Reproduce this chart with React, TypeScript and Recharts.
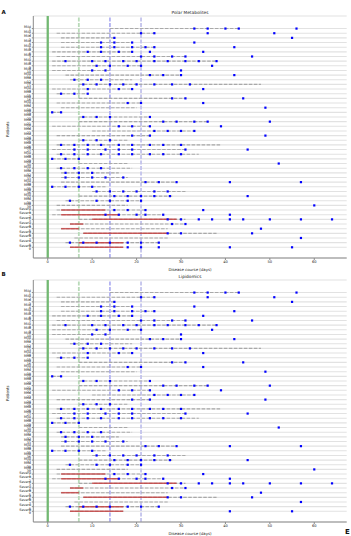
import React from "react";
import {
  ScatterChart,
  Scatter,
  XAxis,
  YAxis,
  CartesianGrid,
  ReferenceLine,
} from "recharts";

const patients = [
  ...Array.from({ length: 39 }, (_, i) => `Mild ${i + 1}`),
  ...Array.from({ length: 9 }, (_, i) => `Severe ${i + 1}`),
];

// hospital stay span (grey dashed), in days
const spanStart = [14, 2, 3, 3, 3, 1, 2, 1, 1, 1, 4, 5, 7, 1, 2, 7, 2, 3, 1, 7, 7, 1, 10, 2, 7, 2, 1, 2, 1, 7, 2, 3, 3, 3, 1, 10, 7, 4, 2, 2, 1, 7, 5, 3, 8, 6, 4, 5];
const spanEnd = [43, 24, 15, 19, 24, 19, 31, 38, 21, 14, 30, 19, 48, 19, 9, 31, 21, 20, 3, 23, 36, 23, 33, 23, 18, 39, 31, 34, 7, 18, 19, 16, 18, 29, 13, 31, 28, 21, 18, 22, 26, 31, 31, 27, 38, 27, 25, 17];

// severe phase (red), null = none
const redStart: (number | null)[] = [...Array(39).fill(null), 3, 3, 10, 5, 3, 8, null, 7, 5];
const redEnd: (number | null)[] = [...Array(39).fill(null), 13, 16, 29, 8, 7, 27, null, 17, 17];

// sample days, Lipidomics
const samplesLipid: number[][] = [
  [33, 36, 40, 43, 56],
  [21, 24, 36, 51],
  [15, 55],
  [12, 15, 19, 33],
  [12, 15, 19, 22, 24, 42],
  [9, 12, 16, 19, 35],
  [21, 24, 28, 31, 46],
  [4, 10, 13, 17, 20, 24, 27, 31, 34, 38],
  [11, 14, 18, 21, 37],
  [10, 13, 30],
  [23, 26, 30, 42],
  [6, 9, 12],
  [8, 11, 14, 17, 20, 24, 28, 32],
  [9, 16, 19, 35],
  [3, 6, 9],
  [28, 31, 44],
  [18, 21, 35],
  [49],
  [1, 3],
  [8, 11, 14, 23],
  [26, 29, 33, 36, 50],
  [16, 19, 23, 39],
  [24, 27, 30, 33],
  [19, 23, 49],
  [8, 11, 14],
  [3, 6, 9, 12, 16, 19, 23, 26, 30],
  [6, 9, 13, 16, 19, 31, 45],
  [3, 6, 9, 12, 16, 19, 23, 26, 30],
  [1, 4, 7],
  [52],
  [3, 6, 9, 12],
  [4, 7, 10],
  [4, 7, 10, 13, 17],
  [22, 25, 29, 41, 57],
  [1, 4, 7, 10],
  [11, 14, 17, 20, 24, 27],
  [15, 18, 21, 24, 27.5, 45],
  [5, 11, 14, 18, 21],
  [60],
  [15, 18, 22, 35],
  [13, 16, 20, 22, 26, 41],
  [27, 30, 34, 37, 41, 44, 50, 57, 64],
  [28, 31],
  [48],
  [27, 30, 46],
  [57],
  [5, 8, 11, 14, 18, 21, 25],
  [41, 55],
];

// sample days, Polar Metabolites
const samplesPolar: number[][] = samplesLipid.map((d, i) => {
  if (i === 5) return [9, 12, 16, 19, 23, 35];
  if (i === 47) return [18, 21, 25, 41, 55];
  return d;
});

const markerDays = [0, 7, 14, 21];
const markerColors = ["#72b872", "#b9dab9", "#b3b3f2", "#c3c3ec"];
const xTicks = [0, 10, 20, 30, 40, 50, 60];
const rowTicks = patients.map((_, i) => i);

const X_DOMAIN: [number, number] = [-3.25, 67.3];
const Y_DOMAIN: [number, number] = [-2.7, 49.3];
const FONT = "DejaVu Sans";

function Dot(props: any) {
  const { cx, cy } = props;
  if (cx == null || cy == null) return null;
  return <rect x={cx - 1.1} y={cy - 1.1} width={2.2} height={2.2} fill="#0000ff" />;
}

function Panel({ samples, top, title, letter, showExtra }: { samples: number[][]; top: number; title: string; letter: string; showExtra?: boolean }) {
  const points = samples.flatMap((days, i) => days.map((d) => ({ x: d, y: i })));
  return (
    <div style={{ position: "absolute", left: 0, top, width: 351, height: 272 }}>
      <ScatterChart width={351} height={272} margin={{ top: 16, right: 4.3, left: 0, bottom: 0 }}>
        <CartesianGrid horizontal vertical={false} stroke="#e2e2e2" strokeWidth={1.1} />
        <XAxis
          type="number"
          dataKey="x"
          domain={X_DOMAIN}
          allowDataOverflow
          ticks={xTicks}
          height={14}
          tickSize={2}
          tickMargin={0.5}
          stroke="#8a8a8a"
          tick={{ fontSize: 3.6, fill: "#222", fontFamily: FONT }}
          label={{ value: "Disease course (days)", position: "insideBottom", offset: 1.5, fontSize: 3.9, fill: "#222", fontFamily: FONT }}
        />
        <XAxis xAxisId="top" orientation="top" type="number" domain={X_DOMAIN} allowDataOverflow height={0} tick={false} tickLine={false} stroke="#8a8a8a" />
        <YAxis
          type="number"
          dataKey="y"
          domain={Y_DOMAIN}
          allowDataOverflow
          reversed
          ticks={rowTicks}
          interval={0}
          width={33.3}
          tickSize={1.5}
          tickMargin={0.8}
          stroke="#8a8a8a"
          tickFormatter={(v: number) => patients[v] ?? ""}
          tick={{ fontSize: 3.4, fill: "#222", fontFamily: FONT }}
          label={{ value: "Patients", angle: -90, position: "insideLeft", offset: 8, fontSize: 3.9, fill: "#222", fontFamily: FONT }}
        />
        <YAxis yAxisId="right" orientation="right" type="number" domain={Y_DOMAIN} allowDataOverflow width={0} tick={false} tickLine={false} stroke="#8a8a8a" />
        {markerDays.map((d, k) => (
          <ReferenceLine
            key={`m${k}`}
            x={d}
            stroke={markerColors[k]}
            strokeWidth={k === 0 ? 2.3 : 1.8}
            strokeDasharray={k === 0 ? undefined : "4 1.5"}
          />
        ))}
        {patients.map((_, i) => (
          <ReferenceLine
            key={`s${i}`}
            segment={[{ x: spanStart[i], y: i }, { x: spanEnd[i], y: i }]}
            stroke="#a9a9a9"
            strokeWidth={1.1}
            strokeDasharray="3.5 1.5"
          />
        ))}
        {patients.map((_, i) =>
          redStart[i] != null ? (
            <ReferenceLine
              key={`r${i}`}
              segment={[{ x: redStart[i] as number, y: i }, { x: redEnd[i] as number, y: i }]}
              stroke="#c43c3c"
              strokeOpacity={0.8}
              strokeWidth={1.5}
            />
          ) : null
        )}
        <Scatter data={points} shape={<Dot />} isAnimationActive={false} />
      </ScatterChart>
      <div style={{ position: "absolute", left: 33.3, width: 313.4, top: 9.6, textAlign: "center", fontSize: 4.3, fontFamily: FONT, color: "#222", lineHeight: "5px" }}>
        {title}
      </div>
      <div style={{ position: "absolute", left: 1.5, top: letter === "A" ? 9 : 6.5, fontSize: 5.5, fontWeight: "bold", fontFamily: FONT, color: "#111", lineHeight: "6px" }}>
        {letter}
      </div>
      {showExtra ? (
        <div style={{ position: "absolute", left: 345, top: 264, fontSize: 7, fontWeight: "bold", fontFamily: FONT, color: "#111", lineHeight: "8px" }}>
          E
        </div>
      ) : null}
    </div>
  );
}

export default function App() {
  return (
    <div style={{ position: "absolute", left: 0, top: 0, width: 351, height: 536, overflow: "hidden", background: "#fff" }}>
      <Panel samples={samplesPolar} top={0} title="Polar Metabolites" letter="A" />
      <Panel samples={samplesLipid} top={264} title="Lipidomics" letter="B" showExtra />
    </div>
  );
}
